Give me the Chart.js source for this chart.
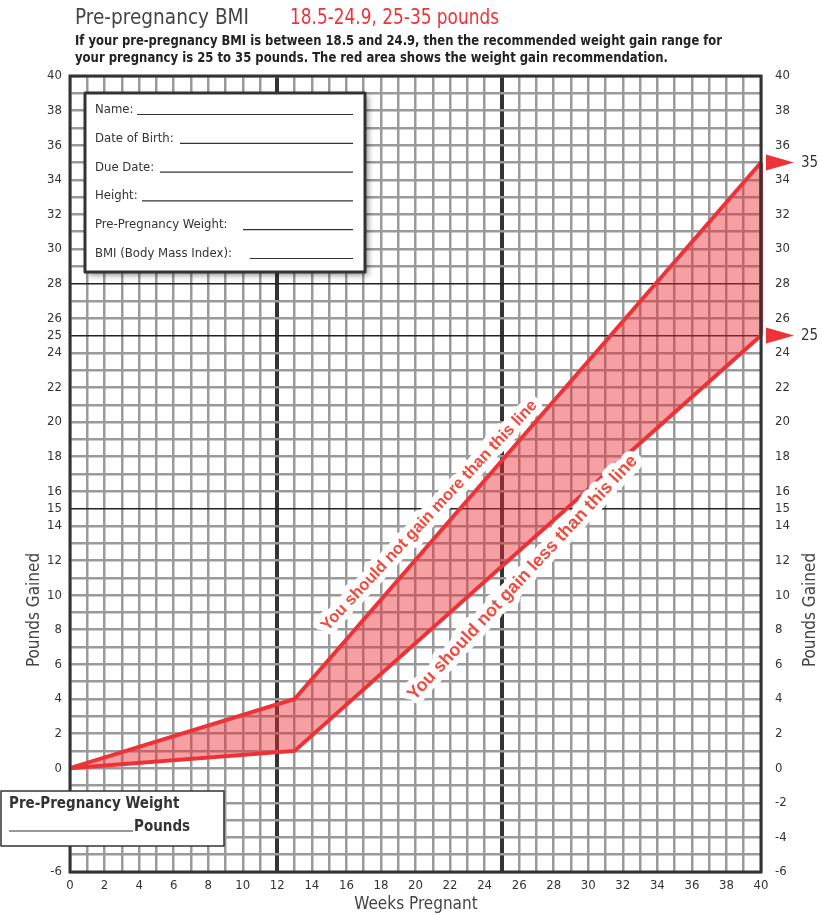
<!DOCTYPE html>
<html lang="en">
<head>
  <meta charset="UTF-8" />
  <title>Pre-pregnancy BMI 18.5-24.9 | Weight Gain Chart</title>
  <script src="https://cdn.jsdelivr.net/npm/chart.js"></script>
  <style>
    html, body { margin: 0; padding: 0; background: #fff; }
    #wrap { width: 822px; height: 915px; }
  </style>
</head>
<body>
  <div id="wrap"><canvas id="bmiChart" width="822" height="915"></canvas></div>

  <script>
    // Chart data
    const weeks = [0, 13, 40];
    const maxGain = [0, 4, 35];   // "should not gain more than this line"
    const minGain = [0, 1, 25];   // "should not gain less than this line"
    const xTickLabels = [0, 2, 4, 6, 8, 10, 12, 14, 16, 18, 20, 22, 24, 26, 28, 30, 32, 34, 36, 38, 40];
    const yTickLabels = [40, 38, 36, 34, 32, 30, 28, 26, 25, 24, 22, 20, 18, 16, 15, 14, 12, 10, 8, 6, 4, 2, 0, -2, -4, -6];
    const trimesterWeeks = [12, 25];
    const refGains = [28, 25, 15];
    const rangeEnds = [35, 25];
    const formFields = ['Name:', 'Date of Birth:', 'Due Date:', 'Height:', 'Pre-Pregnancy Weight:', 'BMI (Body Mass Index):'];

    const RED = '#ee3338';
    const NARROW = "'Liberation Sans Narrow', 'DejaVu Sans Condensed', sans-serif";
    const SANS = "'Liberation Sans', Arial, sans-serif";

    // where the underline of each form field starts (px)
    const fieldLineStart = [137, 180, 160, 142, 243, 250];
    // centre of the two slanted notes, in data units
    const noteAnchors = [
      { x: 20.8, y: 14.6, size: 16.5, text: 'You should not gain more than this line' },
      { x: 26.2, y: 11.0, size: 18, text: 'You should not gain less than this line' }
    ];

    const upperPts = weeks.map((w, i) => ({ x: w, y: maxGain[i] }));
    const lowerPts = weeks.map((w, i) => ({ x: w, y: minGain[i] }));
    const lastWeek = weeks[weeks.length - 1];
    const edgePts = [{ x: lastWeek, y: minGain[minGain.length - 1] }, { x: lastWeek, y: maxGain[maxGain.length - 1] }];

    const tickFont = { family: NARROW, size: 13 };

    const decorations = {
      id: 'decorations',
      beforeDraw(chart) {
        const ctx = chart.ctx;
        ctx.save();
        ctx.fillStyle = '#fff';
        ctx.fillRect(0, 0, chart.width, chart.height);
        ctx.restore();
      },
      afterDraw(chart) {
        const ctx = chart.ctx;
        const area = chart.chartArea;
        const xs = chart.scales.x, ys = chart.scales.y;
        ctx.save();

        // plot border
        ctx.strokeStyle = '#333';
        ctx.lineWidth = 3;
        ctx.strokeRect(area.left, area.top, area.right - area.left, area.bottom - area.top);

        // slanted notes with white halo
        ctx.textAlign = 'center';
        ctx.textBaseline = 'middle';
        ctx.lineJoin = 'round';
        noteAnchors.forEach(n => {
          ctx.save();
          ctx.font = 'bold ' + n.size + 'px ' + SANS;
          ctx.translate(xs.getPixelForValue(n.x), ys.getPixelForValue(n.y));
          ctx.rotate(-47 * Math.PI / 180);
          ctx.strokeStyle = '#fff';
          ctx.lineWidth = 12;
          ctx.strokeText(n.text, 0, 0);
          ctx.fillStyle = '#ef4b3f';
          ctx.fillText(n.text, 0, 0);
          ctx.restore();
        });

        // form box with shadow
        ctx.save();
        ctx.shadowColor = 'rgba(0,0,0,0.45)';
        ctx.shadowBlur = 6;
        ctx.shadowOffsetX = 3;
        ctx.shadowOffsetY = 3;
        ctx.fillStyle = '#fff';
        ctx.fillRect(85, 93, 280, 179);
        ctx.restore();
        ctx.strokeStyle = '#333';
        ctx.lineWidth = 3;
        ctx.strokeRect(85, 93, 280, 179);
        ctx.font = '13px ' + NARROW;
        ctx.textAlign = 'left';
        ctx.textBaseline = 'alphabetic';
        ctx.fillStyle = '#333';
        ctx.lineWidth = 1.2;
        formFields.forEach((f, i) => {
          const base = 113 + i * 28.8;
          ctx.fillText(f, 95, base);
          ctx.beginPath();
          ctx.moveTo(fieldLineStart[i], base + 1.5);
          ctx.lineTo(353, base + 1.5);
          ctx.stroke();
        });

        // pre-pregnancy weight box
        ctx.fillStyle = '#fff';
        ctx.fillRect(1, 791, 223, 55);
        ctx.strokeStyle = '#333';
        ctx.lineWidth = 1.5;
        ctx.strokeRect(1, 791, 223, 55);
        ctx.fillStyle = '#333';
        ctx.font = 'bold 15px ' + NARROW;
        ctx.fillText('Pre-Pregnancy Weight', 9, 808, 176);
        ctx.fillText('Pounds', 134, 831, 60);
        ctx.lineWidth = 1;
        ctx.beginPath();
        ctx.moveTo(9, 831);
        ctx.lineTo(133, 831);
        ctx.stroke();

        // range end markers on the right
        rangeEnds.forEach(v => {
          const y = ys.getPixelForValue(v);
          ctx.fillStyle = RED;
          ctx.beginPath();
          ctx.moveTo(766, y - 8);
          ctx.lineTo(794, y);
          ctx.lineTo(766, y + 8);
          ctx.closePath();
          ctx.fill();
          ctx.fillStyle = '#333';
          ctx.font = '15px ' + NARROW;
          ctx.textBaseline = 'middle';
          ctx.fillText(String(v), 801, y + 1);
        });

        // title block
        ctx.textBaseline = 'alphabetic';
        ctx.fillStyle = '#444';
        ctx.font = '21px ' + NARROW;
        ctx.fillText('Pre-pregnancy BMI', 75, 24, 174);
        ctx.fillStyle = RED;
        ctx.fillText('18.5-24.9, 25-35 pounds', 290, 24, 209);
        ctx.fillStyle = '#222';
        ctx.font = 'bold 14px ' + NARROW;
        ctx.fillText('If your pre-pregnancy BMI is between 18.5 and 24.9, then the recommended weight gain range for', 75, 45, 647);
        ctx.fillText('your pregnancy is 25 to 35 pounds. The red area shows the weight gain recommendation.', 75, 62, 593);

        // axis titles
        ctx.fillStyle = '#444';
        ctx.font = '17px ' + NARROW;
        ctx.textAlign = 'center';
        ctx.fillText('Weeks Pregnant', 416, 909);
        ctx.textBaseline = 'middle';
        [35, 811].forEach(x => {
          ctx.save();
          ctx.translate(x, 610);
          ctx.rotate(-Math.PI / 2);
          ctx.fillText('Pounds Gained', 0, 0);
          ctx.restore();
        });

        ctx.restore();
      }
    };

    new Chart(document.getElementById('bmiChart'), {
      type: 'line',
      data: {
        datasets: [
          {
            label: 'Maximum gain',
            data: upperPts,
            borderColor: RED,
            borderWidth: 4,
            backgroundColor: 'rgba(235, 45, 50, 0.45)',
            fill: '+1',
            pointRadius: 0,
            tension: 0,
            clip: false
          },
          {
            label: 'Minimum gain',
            data: lowerPts,
            borderColor: RED,
            borderWidth: 4,
            fill: false,
            pointRadius: 0,
            tension: 0,
            clip: false
          },
          {
            label: 'Range at term',
            data: edgePts,
            borderColor: RED,
            borderWidth: 4,
            fill: false,
            pointRadius: 0,
            clip: false
          }
        ]
      },
      options: {
        responsive: false,
        animation: false,
        layout: { padding: { top: 76, left: 0, right: 0, bottom: 0 } },
        plugins: {
          legend: { display: false },
          tooltip: { enabled: false }
        },
        scales: {
          x: {
            type: 'linear',
            min: 0,
            max: 40,
            afterFit: s => { s.height = 43; },
            border: { display: false },
            grid: {
              drawTicks: false,
              color: c => (trimesterWeeks.includes(c.tick.value) ? '#333' : '#9a9a9a'),
              lineWidth: c => (trimesterWeeks.includes(c.tick.value) ? 4 : 2.5)
            },
            ticks: {
              stepSize: 1,
              autoSkip: false,
              maxRotation: 0,
              padding: 6,
              color: '#333',
              font: tickFont,
              callback: v => (xTickLabels.includes(v) ? v : '')
            }
          },
          y: {
            type: 'linear',
            position: 'left',
            min: -6,
            max: 40,
            afterFit: s => { s.width = 70; },
            border: { display: false },
            grid: {
              drawTicks: false,
              color: c => (refGains.includes(c.tick.value) ? '#222' : '#9a9a9a'),
              lineWidth: c => (refGains.includes(c.tick.value) ? 1.5 : 2.5)
            },
            ticks: {
              stepSize: 1,
              autoSkip: false,
              padding: 8,
              color: '#333',
              font: tickFont,
              callback: v => (yTickLabels.includes(v) ? v : '')
            }
          },
          y2: {
            type: 'linear',
            position: 'right',
            min: -6,
            max: 40,
            afterFit: s => { s.width = 61; },
            border: { display: false },
            grid: { display: false, drawTicks: false },
            ticks: {
              stepSize: 1,
              autoSkip: false,
              padding: 14,
              color: '#333',
              font: tickFont,
              // the range-end markers sit where 25 would be printed
              callback: v => (yTickLabels.includes(v) && !rangeEnds.includes(v) ? v : '')
            }
          }
        }
      },
      plugins: [decorations]
    });
  </script>
</body>
</html>
